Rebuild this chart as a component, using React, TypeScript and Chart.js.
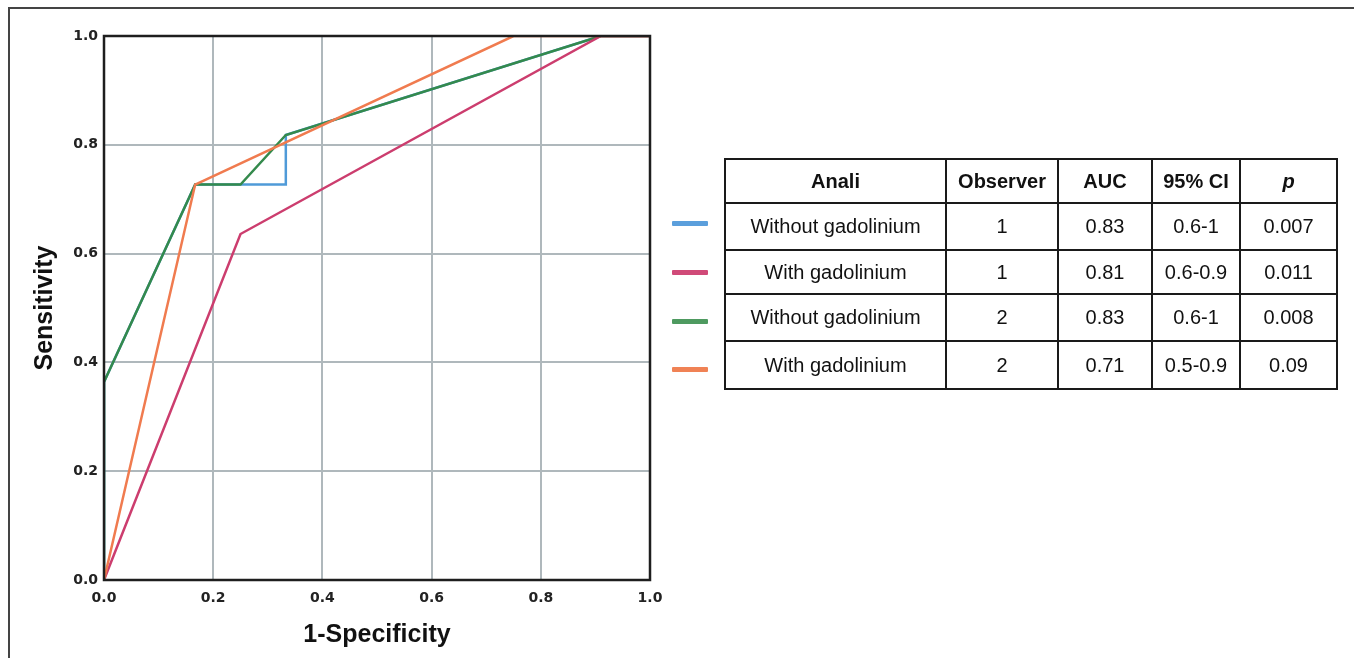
import React, { useEffect, useRef } from "react";
import { Chart, registerables } from "chart.js";

Chart.register(...registerables);

// ROC curve points (1-Specificity, Sensitivity)
const blueFpr = [0, 0, 0.167, 0.333, 0.333, 0.91, 1];
const blueTpr = [0, 0.364, 0.727, 0.727, 0.818, 1, 1];
const pinkFpr = [0, 0.25, 0.91, 1];
const pinkTpr = [0, 0.636, 1, 1];
const greenFpr = [0, 0, 0.167, 0.25, 0.333, 0.91, 1];
const greenTpr = [0, 0.364, 0.727, 0.727, 0.818, 1, 1];
const orangeFpr = [0, 0.167, 0.75, 1];
const orangeTpr = [0, 0.727, 1, 1];

const seriesColors = ["#4f9ad8", "#cc3d6e", "#348a4c", "#f07b4f"];
const legendColors = ["#5b9fdc", "#d04a78", "#4e9a60", "#f08255"];

const xTitle = "1-Specificity";
const yTitle = "Sensitivity";

const tableHeaders = ["Anali", "Observer", "AUC", "95% CI", "p"];
const tableAnali = ["Without gadolinium", "With gadolinium", "Without gadolinium", "With gadolinium"];
const tableObserver = ["1", "1", "2", "2"];
const tableAUC = ["0.83", "0.81", "0.83", "0.71"];
const tableCI = ["0.6-1", "0.6-0.9", "0.6-1", "0.5-0.9"];
const tableP = ["0.007", "0.011", "0.008", "0.09"];

const toPoints = (xs: number[], ys: number[]) => xs.map((x, i) => ({ x, y: ys[i] }));

const framePlugin = {
  id: "frameBox",
  afterDatasetsDraw(chart: any) {
    const { ctx, chartArea: a } = chart;
    ctx.save();
    ctx.strokeStyle = "#1e1e1e";
    ctx.lineWidth = 2.5;
    ctx.strokeRect(a.left, a.top, a.right - a.left, a.bottom - a.top);
    ctx.restore();
  },
};

export default function App() {
  const canvasRef = useRef<HTMLCanvasElement | null>(null);

  useEffect(() => {
    const canvas = canvasRef.current;
    if (!canvas) return;
    const series = [
      { label: "Without gadolinium 1", xs: blueFpr, ys: blueTpr, color: seriesColors[0], order: 4 },
      { label: "With gadolinium 1", xs: pinkFpr, ys: pinkTpr, color: seriesColors[1], order: 2 },
      { label: "Without gadolinium 2", xs: greenFpr, ys: greenTpr, color: seriesColors[2], order: 3 },
      { label: "With gadolinium 2", xs: orangeFpr, ys: orangeTpr, color: seriesColors[3], order: 1 },
    ];
    const tickFont = { family: "DejaVu Sans", size: 14, weight: "bold" };
    const chart = new Chart(canvas, {
      type: "line",
      data: {
        datasets: series.map((s) => ({
          label: s.label,
          data: toPoints(s.xs, s.ys),
          borderColor: s.color,
          backgroundColor: s.color,
          borderWidth: 2.5,
          pointRadius: 0,
          tension: 0,
          fill: false,
          order: s.order,
        })),
      },
      options: {
        responsive: false,
        animation: false,
        devicePixelRatio: 1,
        layout: { padding: { top: 36, right: 50, left: 0, bottom: 0 } },
        plugins: { legend: { display: false }, tooltip: { enabled: false } },
        scales: {
          x: {
            type: "linear",
            min: 0,
            max: 1,
            afterFit: (scale: any) => {
              scale.height = 78;
            },
            ticks: {
              stepSize: 0.2,
              padding: 10,
              color: "#222",
              font: tickFont,
              callback: (v: any) => Number(v).toFixed(1),
            },
            grid: { color: "#afb8bc", lineWidth: 2, drawTicks: false },
            border: { display: false },
            title: {
              display: true,
              text: xTitle,
              color: "#111",
              font: { family: "Liberation Sans", size: 25, weight: "bold" },
              padding: { top: 0, bottom: 8 },
            },
          },
          y: {
            type: "linear",
            min: 0,
            max: 1,
            afterFit: (scale: any) => {
              scale.width = 104;
            },
            ticks: {
              stepSize: 0.2,
              padding: 6,
              color: "#222",
              font: tickFont,
              callback: (v: any) => Number(v).toFixed(1),
            },
            grid: { color: "#afb8bc", lineWidth: 2, drawTicks: false },
            border: { display: false },
            title: {
              display: true,
              text: yTitle,
              color: "#111",
              font: { family: "Liberation Sans", size: 25, weight: "bold" },
              padding: { top: 30, bottom: 0 },
            },
          },
        },
      },
      plugins: [framePlugin],
    } as any);
    return () => chart.destroy();
  }, []);

  const colWidths = [221, 112, 94, 88, 97];
  const rowHeights = [44, 47, 44, 47, 48];
  const cellBase: React.CSSProperties = {
    border: "2px solid #1a1a1a",
    textAlign: "center",
    verticalAlign: "middle",
    padding: 0,
    color: "#111",
    fontFamily: "'Liberation Sans', Arial, sans-serif",
    fontSize: 20,
    whiteSpace: "nowrap",
  };
  const legendCenters = [223, 272, 321, 369];

  return (
    <div
      style={{
        position: "fixed",
        left: 0,
        top: 0,
        width: 1354,
        height: 658,
        background: "#fff",
        overflow: "hidden",
      }}
    >
      <div
        style={{
          position: "absolute",
          left: 8,
          top: 7,
          width: 1354,
          height: 700,
          borderTop: "2px solid #444",
          borderLeft: "2px solid #444",
        }}
      />
      <canvas
        ref={canvasRef}
        width={700}
        height={658}
        style={{ position: "absolute", left: 0, top: 0, width: 700, height: 658 }}
      />
      {legendCenters.map((c, i) => (
        <div
          key={i}
          style={{
            position: "absolute",
            left: 672,
            top: c - 2.5,
            width: 36,
            height: 5,
            background: legendColors[i],
            borderRadius: 1,
          }}
        />
      ))}
      <table
        style={{
          position: "absolute",
          left: 724,
          top: 158,
          width: 614,
          borderCollapse: "collapse",
          tableLayout: "fixed",
        }}
      >
        <colgroup>
          {colWidths.map((w, i) => (
            <col key={i} style={{ width: w }} />
          ))}
        </colgroup>
        <tbody>
          <tr style={{ height: rowHeights[0] }}>
            {tableHeaders.map((h, i) => (
              <td
                key={i}
                style={{
                  ...cellBase,
                  fontWeight: "bold",
                  fontStyle: i === 4 ? "italic" : "normal",
                }}
              >
                {h}
              </td>
            ))}
          </tr>
          {tableAnali.map((a, r) => (
            <tr key={r} style={{ height: rowHeights[r + 1] }}>
              <td style={cellBase}>{a}</td>
              <td style={cellBase}>{tableObserver[r]}</td>
              <td style={cellBase}>{tableAUC[r]}</td>
              <td style={cellBase}>{tableCI[r]}</td>
              <td style={cellBase}>{tableP[r]}</td>
            </tr>
          ))}
        </tbody>
      </table>
    </div>
  );
}
